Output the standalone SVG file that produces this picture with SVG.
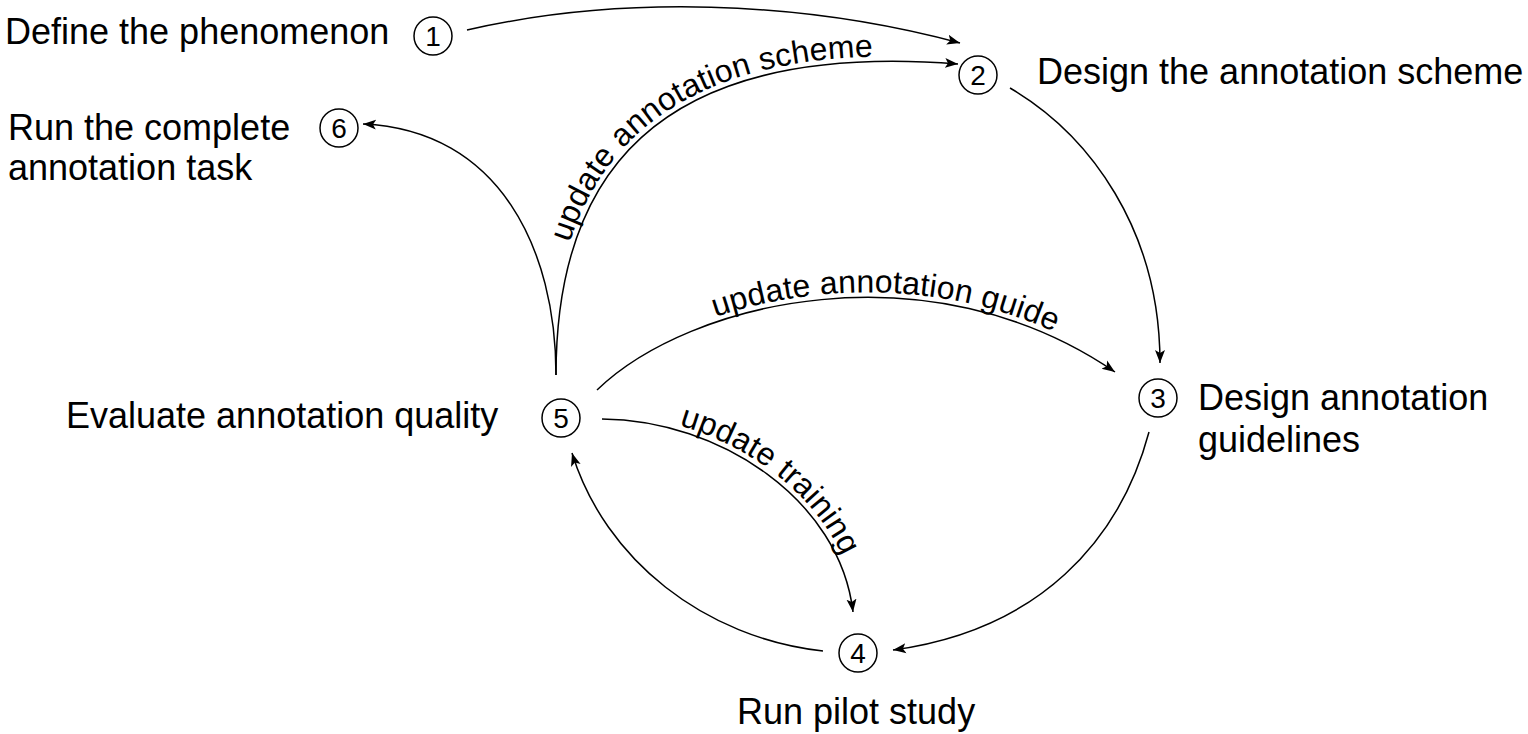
<svg xmlns="http://www.w3.org/2000/svg" width="1528" height="734" viewBox="0 0 1528 734">
<style>
  text { font-family: "Liberation Sans", Arial, Helvetica, sans-serif; fill: #000; }
  .lbl { font-size: 36px; }
  .num { font-size: 28px; text-anchor: middle; }
  .edge-lbl { font-size: 32px; }
  circle.badge { fill: none; stroke: #000; stroke-width: 1.5; }
  .edge { fill: none; stroke: #000; stroke-width: 1.5; marker-end: url(#arrow); }
</style>
<defs>
  <marker id="arrow" markerUnits="userSpaceOnUse" markerWidth="14" markerHeight="12" refX="13" refY="5" orient="auto" viewBox="0 0 14 10">
    <path d="M0,0 L13,5 L0,10 L3,5 z" fill="#000"/>
  </marker>
  <path id="p52" d="M556,375 C556,180 650,40 958,64"/>
  <path id="p53" d="M597,390 C690,300 930,245 1115,372"/>
  <path id="p54" d="M602,419 C720,420 840,500 853,612"/>
</defs>

<g id="connectors">
  <path class="edge" d="M467,30 C620,-5 800,0 960,43"/>
  <use href="#p52" class="edge"/>
  <path class="edge" d="M556,375 C556,250 500,130 363,124"/>
  <path class="edge" d="M1010,88 C1090,135 1160,230 1160,363"/>
  <use href="#p53" class="edge"/>
  <use href="#p54" class="edge"/>
  <path class="edge" d="M823,651 C705,638 605,560 572,453"/>
  <path class="edge" d="M1149,432 C1120,540 1040,630 893,650"/>
  <text class="edge-lbl" dy="-5"><textPath href="#p52" startOffset="54%" text-anchor="middle">update annotation scheme</textPath></text>
  <text class="edge-lbl" dy="-5"><textPath href="#p53" startOffset="56%" text-anchor="middle">update annotation guide</textPath></text>
  <text class="edge-lbl" dy="-5"><textPath href="#p54" startOffset="53%" text-anchor="middle">update training</textPath></text>
</g>

<g id="node1">
  <text class="lbl" x="5" y="44">Define the phenomenon</text>
  <circle class="badge" cx="433" cy="36" r="19"/>
  <text class="num" x="433" y="46">1</text>
</g>
<g id="node2">
  <circle class="badge" cx="978" cy="75" r="19"/>
  <text class="num" x="978" y="85">2</text>
  <text class="lbl" x="1037" y="84">Design the annotation scheme</text>
</g>
<g id="node3">
  <circle class="badge" cx="1158" cy="398" r="19"/>
  <text class="num" x="1158" y="408">3</text>
  <text class="lbl" x="1198" y="410">Design annotation</text>
  <text class="lbl" x="1198" y="452">guidelines</text>
</g>
<g id="node4">
  <circle class="badge" cx="858" cy="653" r="19"/>
  <text class="num" x="858" y="663">4</text>
  <text class="lbl" x="737" y="724">Run pilot study</text>
</g>
<g id="node5">
  <text class="lbl" x="66" y="428">Evaluate annotation quality</text>
  <circle class="badge" cx="561" cy="418" r="19"/>
  <text class="num" x="561" y="428">5</text>
</g>
<g id="node6">
  <text class="lbl" x="8" y="140">Run the complete</text>
  <text class="lbl" x="8" y="180">annotation task</text>
  <circle class="badge" cx="339" cy="128" r="19"/>
  <text class="num" x="339" y="138">6</text>
</g>
</svg>
